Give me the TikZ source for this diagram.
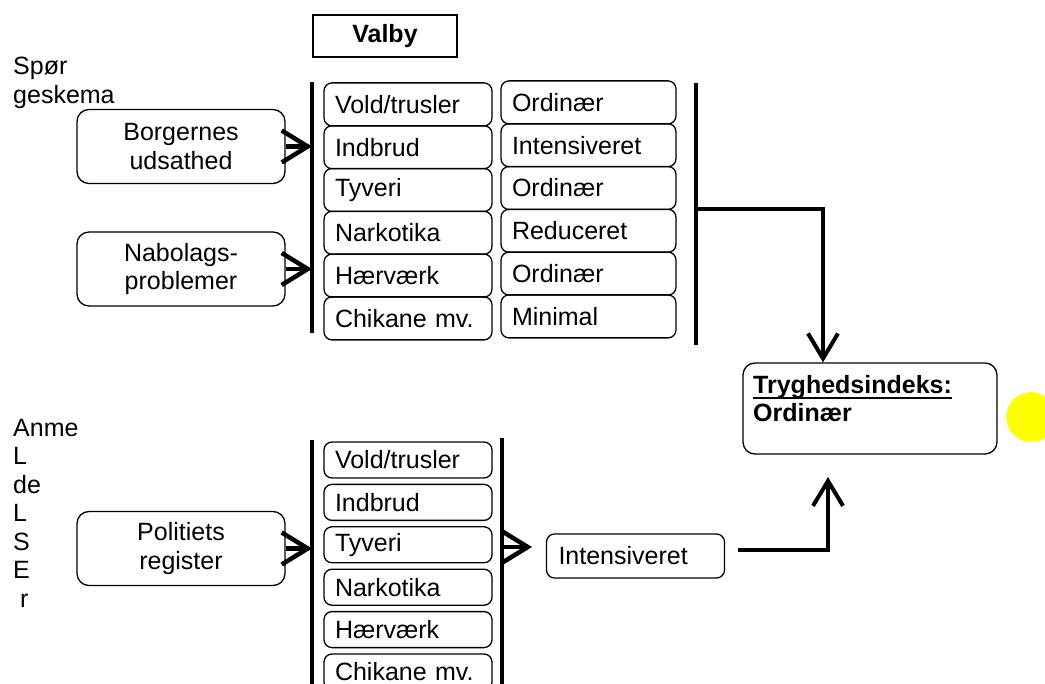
\documentclass[tikz,border=0pt]{standalone}
\usepackage{fontspec}
\setmainfont{Liberation Sans}
\usetikzlibrary{arrows.meta}
\definecolor{Y1}{RGB}{255,255,0}
\newcommand{\bigfont}{\fontsize{25}{28.5}\selectfont}
\newcommand{\ulline}[1]{\setbox0\hbox{#1}\rlap{\rule[-6pt]{\wd0}{2.2pt}}\box0}

\begin{document}
\begin{tikzpicture}[x=1pt, y=-1pt, font=\bigfont,
    box/.style={draw, line width=1.3pt, rounded corners=8pt, inner xsep=11pt, inner ysep=0pt, align=left},
    cat/.style={box, text width=146pt, minimum height=43pt},
    lvl/.style={box, text width=153pt, minimum height=43pt},
    src/.style={draw, line width=1.3pt, rounded corners=12pt, minimum width=208pt, minimum height=74pt, inner sep=0pt, align=center},
    bar/.style={line width=4pt},
    chev/.style={line width=4.5pt, -{Straight Barb[length=26pt, width=32pt]}},
    flow/.style={line width=4pt, -{Straight Barb[length=25pt, width=30pt]}}]
      \useasboundingbox (0,0) rectangle (1045,684);
      \node[anchor=north west, inner sep=0pt, align=left] (spor) at (13,57) {Spør\\geskema};
      \node[anchor=north west, inner sep=0pt, align=left] (anm) at (13,419) {Anme\\L\\de\\L\\S\\E\\\mbox{}\ r};
      \node[draw, line width=1.3pt, minimum width=144pt, minimum height=42pt, font=\bigfont\bfseries] (valby) at (385,36) {Valby};
      % spoergeskema
      \node[src] (borg) at (181,146.5) {Borgernes\\udsathed};
      \node[src] (nab) at (181,269) {Nabolags-\\problemer};
      \coordinate (bl1) at (312,82); \coordinate (bl2) at (312,333);
      \draw[bar] (bl1) -- (bl2);
      \draw[chev] (borg.east) -- (borg.east -| bl1);
      \draw[chev] (nab.east) -- (nab.east -| bl1);
      \node[cat] (c1) at (408,104.4) {Vold/trusler};
      \node[cat] (c2) at (408,147.2) {Indbrud};
      \node[cat] (c3) at (408,190.0) {Tyveri};
      \node[cat] (c4) at (408,232.8) {Narkotika};
      \node[cat] (c5) at (408,275.6) {Hærværk};
      \node[cat] (c6) at (408,318.4) {Chikane mv.};
      \node[lvl] (l1) at (588.5,102.4) {Ordinær};
      \node[lvl] (l2) at (588.5,145.2) {Intensiveret};
      \node[lvl] (l3) at (588.5,188.0) {Ordinær};
      \node[lvl] (l4) at (588.5,230.8) {Reduceret};
      \node[lvl] (l5) at (588.5,273.6) {Ordinær};
      \node[lvl] (l6) at (588.5,316.4) {Minimal};
      \coordinate (tr1) at (696,83); \coordinate (tr2) at (696,345);
      \draw[bar] (tr1) -- (tr2);
      % anmeldelser
      \node[src] (pol) at (181,548.5) {Politiets\\register};
      \coordinate (bb1) at (312,440); \coordinate (bb2) at (312,690);
      \draw[bar] (bb1) -- (bb2);
      \draw[chev] (pol.east) -- (pol.east -| bb1);
      \node[cat, minimum height=36pt] (r1) at (408,460.0) {Vold/trusler};
      \node[cat, minimum height=36pt] (r2) at (408,502.4) {Indbrud};
      \node[cat, minimum height=36pt] (r3) at (408,544.8) {Tyveri};
      \node[cat, minimum height=36pt] (r4) at (408,587.2) {Narkotika};
      \node[cat, minimum height=36pt] (r5) at (408,629.6) {Hærværk};
      \node[cat, minimum height=36pt] (r6) at (408,672.0) {Chikane mv.};
      \coordinate (br1) at (502,438); \coordinate (br2) at (502,690);
      \draw[bar] (br1) -- (br2);
      \coordinate (gt) at (532,547);
      \draw[chev] (gt -| br1) -- (gt);
      \node[box, text width=154pt, inner xsep=12pt, minimum height=44pt] (int) at (635.5,556) {Intensiveret};
      % indeks
      \node[draw, line width=1.3pt, rounded corners=12pt, minimum width=254pt, minimum height=91pt] (idx) at (870,408.5) {};
      \node[anchor=north west, inner sep=0pt, align=left, font=\bigfont\bfseries] (idxtxt) at (753,375) {\ulline{Tryghedsindeks:}\\Ordinær};
      \fill[Y1] (1031,417) circle (25);
      \coordinate (k1) at (823,209);
      \draw[flow] (k1 -| tr1) -- (k1) -- (k1 |- idx.north);
      \coordinate (k2) at (738,550); \coordinate (k3) at (828,477);
      \draw[flow] (k2) -| (k3);
    \end{tikzpicture}
\end{document}
